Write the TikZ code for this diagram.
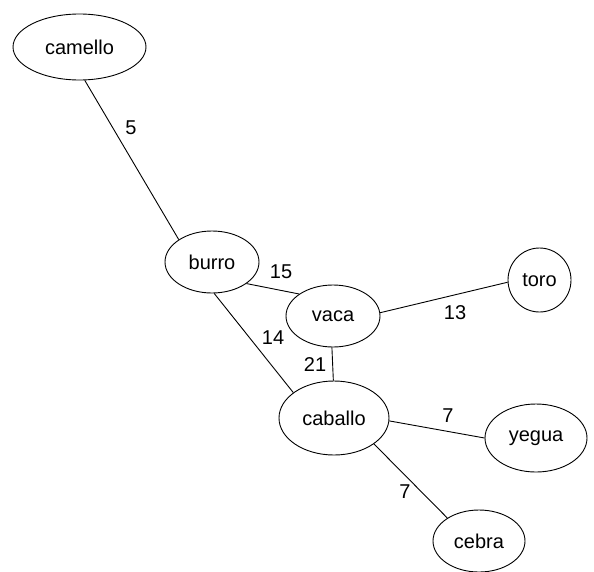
\documentclass[tikz,border=0pt]{standalone}
\usepackage{fontspec}
\setmainfont{Liberation Sans}
\usetikzlibrary{shapes.geometric}

\begin{document}
\begin{tikzpicture}[x=1pt, y=-1pt, line width=0.9pt,
    animal/.style={draw, ellipse, inner sep=0pt, font=\fontsize{20}{24}\selectfont},
    peso/.style={inner sep=0pt, font=\fontsize{20}{24}\selectfont}]
        \useasboundingbox (0,0) rectangle (594,571);

        \node[animal, minimum width=133, minimum height=66] (camello) at (79.5,47) {camello};
        \node[animal, minimum width=94, minimum height=62] (burro) at (212,262) {burro};
        \node[animal, minimum width=94, minimum height=62] (vaca) at (333,316) {vaca};
        \node[animal, minimum width=63, minimum height=64] (toro) at (539.5,280) {toro};
        \node[animal, minimum width=110, minimum height=74] (caballo) at (334,418) {caballo};
        \node[animal, minimum width=102, minimum height=68] (yegua) at (536,438) {yegua};
        \node[animal, minimum width=92, minimum height=62] (cebra) at (479,541) {cebra};

        % Edges - black
        \draw[black] (camello.-81) -- (burro.146);
        \draw[black] (burro.-32) -- (vaca.147);
        \draw[black] (vaca.4) -- (toro.-176);
        \draw[black] (burro.-86) -- (caballo.148);
        \draw[black] (vaca.-92) -- (caballo.91);
        \draw[black] (caballo.-3) -- (yegua.180);
        \draw[black] (caballo.-33) -- (cebra.144);

        % Weights
        \node[peso] (w5) at (131,128) {5};
        \node[peso] (w15) at (281,272) {15};
        \node[peso] (w13) at (455,313) {13};
        \node[peso] (w14) at (273,338) {14};
        \node[peso] (w21) at (315,365) {21};
        \node[peso] (w7a) at (448,416) {7};
        \node[peso] (w7b) at (405,492) {7};
      \end{tikzpicture}
\end{document}
